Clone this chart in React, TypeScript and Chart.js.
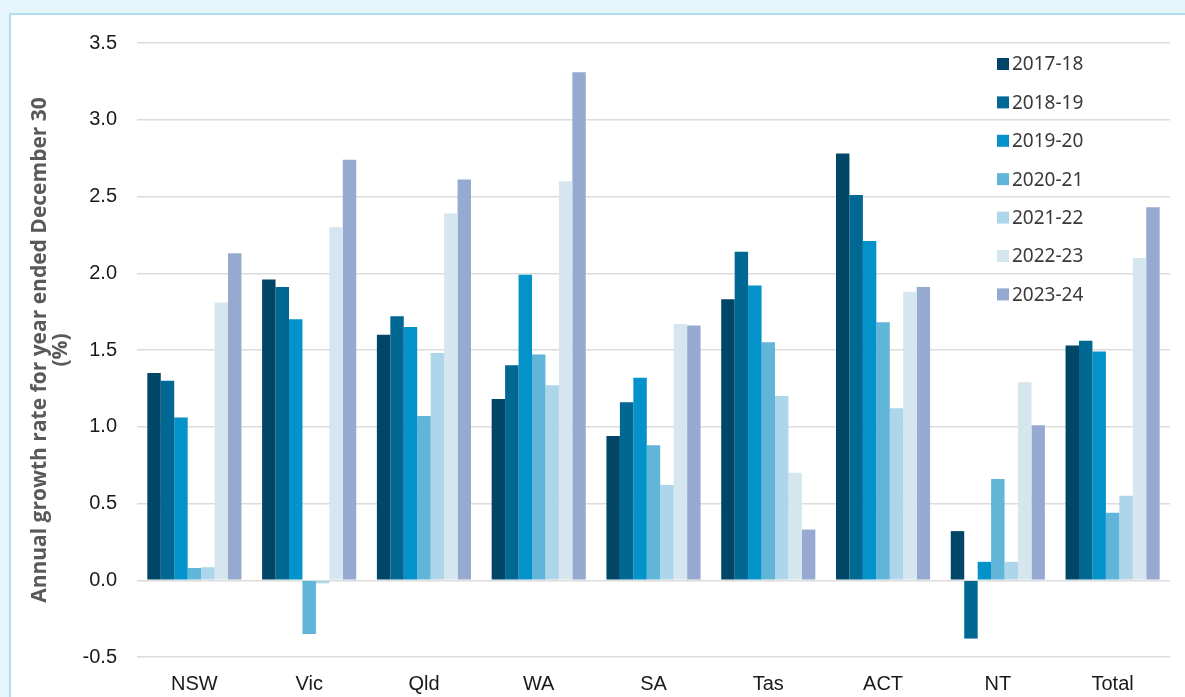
import React, { useEffect, useRef } from "react";
import { Chart, registerables } from "chart.js";

Chart.register(...registerables);

const categories = ["NSW", "Vic", "Qld", "WA", "SA", "Tas", "ACT", "NT", "Total"];

const seriesLabels = ["2017-18", "2018-19", "2019-20", "2020-21", "2021-22", "2022-23", "2023-24"];

const v2017_18 = [1.35, 1.96, 1.60, 1.18, 0.94, 1.83, 2.78, 0.32, 1.53];
const v2018_19 = [1.30, 1.91, 1.72, 1.40, 1.16, 2.14, 2.51, -0.38, 1.56];
const v2019_20 = [1.06, 1.70, 1.65, 1.99, 1.32, 1.92, 2.21, 0.12, 1.49];
const v2020_21 = [0.08, -0.35, 1.07, 1.47, 0.88, 1.55, 1.68, 0.66, 0.44];
const v2021_22 = [0.085, -0.02, 1.48, 1.27, 0.62, 1.20, 1.12, 0.12, 0.55];
const v2022_23 = [1.81, 2.30, 2.39, 2.60, 1.67, 0.70, 1.88, 1.29, 2.10];
const v2023_24 = [2.13, 2.74, 2.61, 3.31, 1.66, 0.33, 1.91, 1.01, 2.43];

const seriesValues = [v2017_18, v2018_19, v2019_20, v2020_21, v2021_22, v2022_23, v2023_24];

const seriesColors = ["#004667", "#006893", "#0392c9", "#60b5d9", "#aed6ea", "#d6e6ef", "#96aad1"];

const yTitle = ["Annual growth rate for year ended December 30", "(%)"];

const insideLegend = {
  id: "insideLegend",
  afterDraw(chart: any) {
    const ctx = chart.ctx;
    ctx.save();
    ctx.font = "19px 'Noto Sans'";
    ctx.textBaseline = "middle";
    ctx.textAlign = "left";
    chart.data.datasets.forEach((ds: any, i: number) => {
      const y = 64 + i * 38.4;
      ctx.fillStyle = ds.backgroundColor;
      ctx.fillRect(997, y - 6, 12, 12);
      ctx.fillStyle = "#3a3a3a";
      ctx.fillText(ds.label, 1012, y + 1);
    });
    ctx.restore();
  },
};

export default function App() {
  const canvasRef = useRef<HTMLCanvasElement | null>(null);

  useEffect(() => {
    document.body.style.margin = "0";
    const canvas = canvasRef.current;
    if (!canvas) return;
    const chart = new Chart(canvas, {
      type: "bar",
      data: {
        labels: categories,
        datasets: seriesLabels.map((label, i) => ({
          label,
          data: seriesValues[i],
          backgroundColor: seriesColors[i],
          borderWidth: 0,
          barPercentage: 1,
          categoryPercentage: 0.82,
        })),
      },
      options: {
        responsive: false,
        animation: false,
        layout: { padding: { top: 43, right: 15, bottom: 0, left: 0 } },
        plugins: {
          legend: { display: false },
          tooltip: { enabled: false },
        },
        scales: {
          x: {
            grid: { display: false, drawTicks: false },
            border: { display: false },
            ticks: {
              padding: 15,
              color: "#1a1a1a",
              font: { family: "'Liberation Sans', Arial, sans-serif", size: 20 },
            },
            afterFit: (s: any) => {
              s.height = 40;
            },
          },
          y: {
            min: -0.5,
            max: 3.5,
            ticks: {
              stepSize: 0.5,
              padding: 20,
              color: "#1a1a1a",
              font: { family: "'Liberation Sans', Arial, sans-serif", size: 20 },
              callback: (v: any) => Number(v).toFixed(1),
            },
            grid: { color: "#dcdcdc", lineWidth: 1.5, drawTicks: false },
            border: { display: false },
            title: {
              display: true,
              text: yTitle,
              color: "#595959",
              padding: { top: 30, bottom: 0 },
              font: { family: "'Open Sans', sans-serif", size: 21, weight: "bold", lineHeight: 1.0 },
            },
            afterFit: (s: any) => {
              s.width = 137;
            },
          },
        },
      },
      plugins: [insideLegend],
    });
    return () => chart.destroy();
  }, []);

  return (
    <div style={{ position: "relative", width: 1185, height: 697, background: "#e4f5fc", overflow: "hidden" }}>
      <div
        style={{
          position: "absolute",
          left: 9,
          top: 13,
          width: 1200,
          height: 720,
          background: "#ffffff",
          border: "2px solid #b4ddef",
        }}
      />
      <canvas
        ref={canvasRef}
        width={1185}
        height={697}
        style={{ position: "absolute", left: 0, top: 0, width: 1185, height: 697 }}
      />
    </div>
  );
}
